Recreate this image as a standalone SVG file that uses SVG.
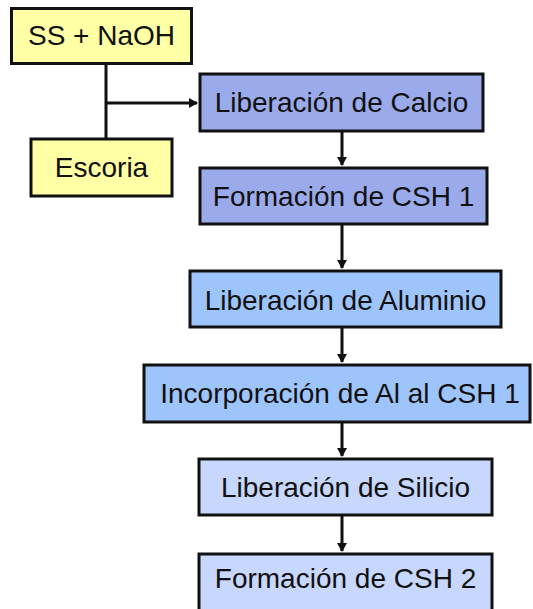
<svg xmlns="http://www.w3.org/2000/svg" width="533" height="609" viewBox="0 0 533 609">
<style>
.box{stroke:#111;stroke-width:3}
.y{fill:#FFFFA6}
.b1{fill:#9AAAEA}
.b2{fill:#9EC4FC}
.b3{fill:#C7D7FD}
text{font-family:"Liberation Sans",Arial,sans-serif;font-size:28px;fill:#111;text-anchor:middle}
.c{stroke:#111;stroke-width:3;fill:none}
</style>
<defs>
<marker id="ah" markerWidth="10" markerHeight="10" refX="8" refY="5" orient="auto" markerUnits="userSpaceOnUse">
<path d="M0,0 L9,5 L0,10 Z" fill="#111"/>
</marker>
</defs>
<g id="connectors">
<path class="c" d="M106,64 V139"/>
<path class="c" d="M106,103 H197" marker-end="url(#ah)"/>
<path class="c" d="M342,131 V165" marker-end="url(#ah)"/>
<path class="c" d="M342,225 V268" marker-end="url(#ah)"/>
<path class="c" d="M342,328 V362" marker-end="url(#ah)"/>
<path class="c" d="M342,423 V456" marker-end="url(#ah)"/>
<path class="c" d="M342,516 V551" marker-end="url(#ah)"/>
</g>
<g id="ss_naoh"><rect class="box y" x="11.5" y="8.5" width="180" height="55"/><text x="101.5" y="45">SS + NaOH</text></g>
<g id="escoria"><rect class="box y" x="31" y="139" width="141" height="57"/><text x="101.5" y="177">Escoria</text></g>
<g id="calcio"><rect class="box b1" x="200" y="74" width="283" height="57"/><text x="341.5" y="112">Liberación de Calcio</text></g>
<g id="csh1"><rect class="box b1" x="200" y="168" width="287" height="56"/><text x="343.5" y="206">Formación de CSH 1</text></g>
<g id="aluminio"><rect class="box b2" x="190" y="271" width="311" height="56"/><text x="345.5" y="310">Liberación de Aluminio</text></g>
<g id="incorporacion"><rect class="box b2" x="144" y="365" width="386" height="57"/><text x="340" y="403">Incorporación de Al al CSH 1</text></g>
<g id="silicio"><rect class="box b3" x="199" y="459" width="293" height="56"/><text x="345.5" y="497">Liberación de Silicio</text></g>
<g id="csh2"><rect class="box b3" x="199" y="554" width="293" height="60"/><text x="345.5" y="588">Formación de CSH 2</text></g>
</svg>
